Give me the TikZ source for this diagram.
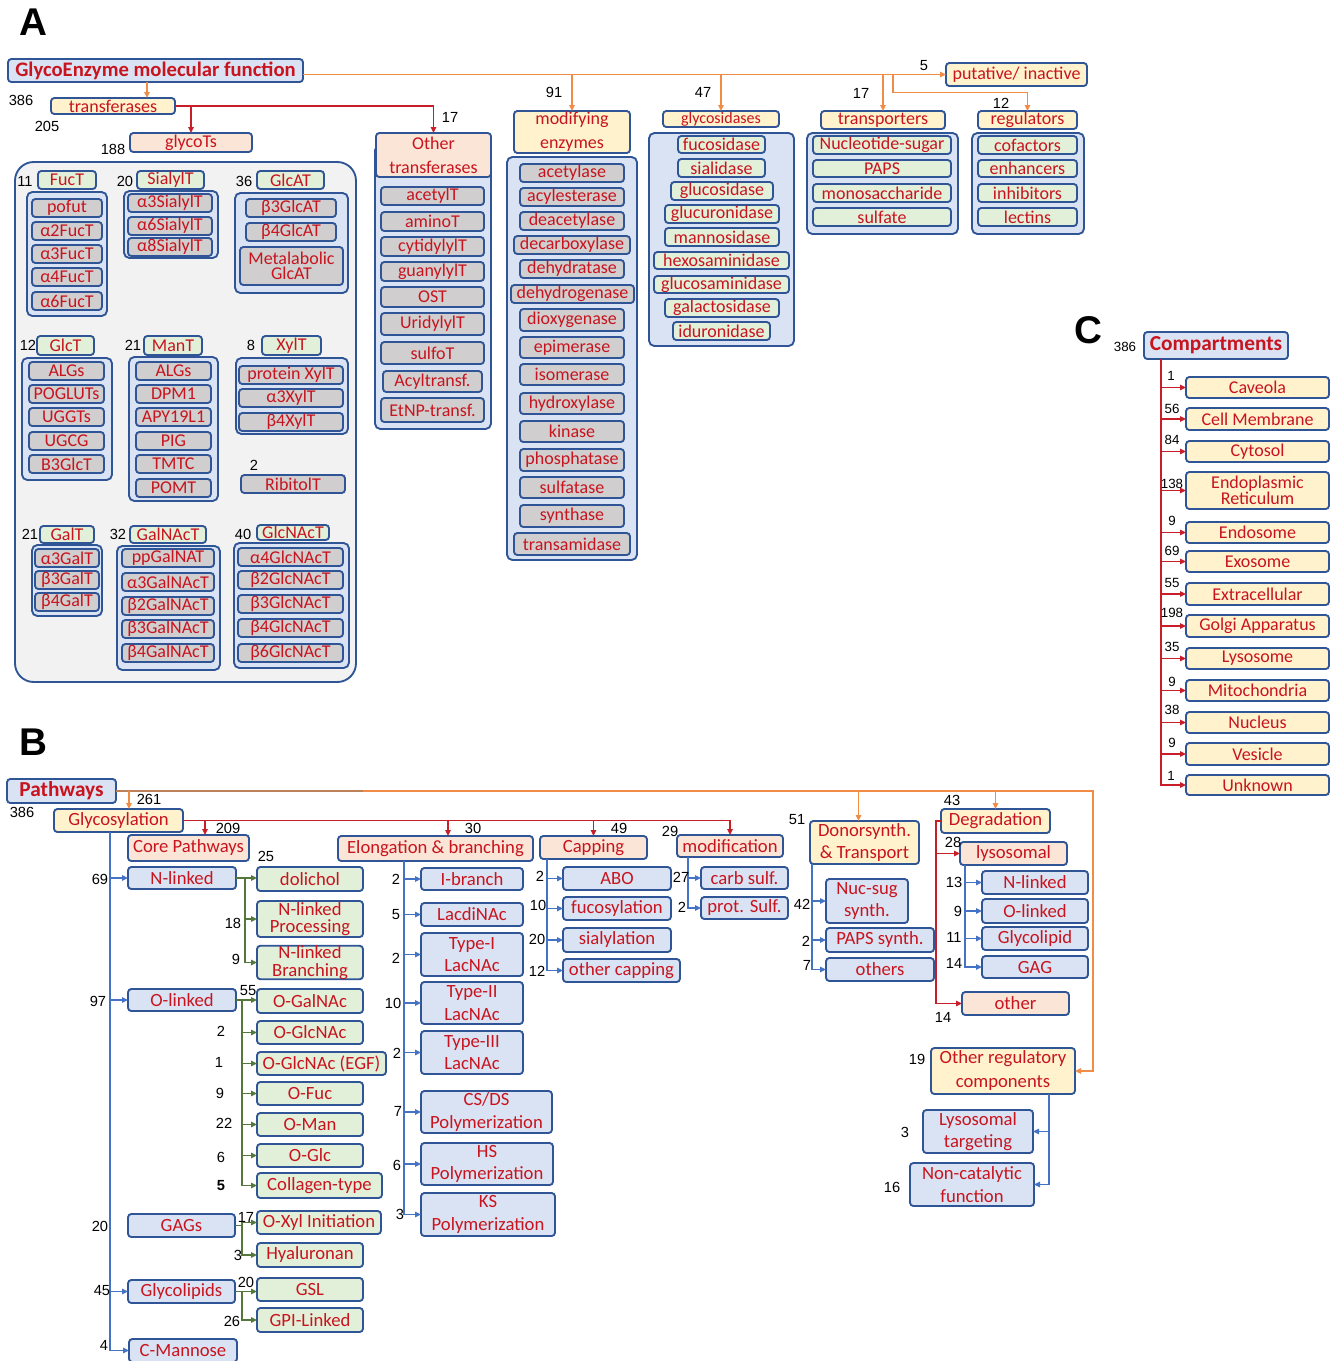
\documentclass[tikz,border=0pt]{standalone}
\usepackage{fontspec}
\setmainfont{Carlito}
\newfontfamily\arialf{Liberation Sans}
\usetikzlibrary{arrows.meta,calc}
\definecolor{bcol}{RGB}{47,85,151}
\definecolor{tred}{RGB}{200,20,30}
\definecolor{fblue}{RGB}{218,227,243}
\definecolor{fyel}{RGB}{255,242,204}
\definecolor{fpch}{RGB}{251,229,214}
\definecolor{fgrn}{RGB}{226,240,217}
\definecolor{fgry}{RGB}{208,206,206}
\definecolor{fpan}{RGB}{242,242,242}
\definecolor{ocol}{RGB}{240,140,70}
\definecolor{rcol}{RGB}{200,30,40}
\definecolor{blcol}{RGB}{68,114,196}
\definecolor{gcol}{RGB}{84,120,60}
\definecolor{brcol}{RGB}{190,130,90}
\newcommand\fz[2]{\fontsize{#1}{#2}\selectfont}
\newcommand\bx[7]{\node[#2,minimum width={((#5)-(#3))*0.75pt},minimum height={((#6)-(#4))*0.75pt}] (#1) at ({((#3)+(#5))/2},{((#4)+(#6))/2}) {#7};}
\newcommand\itm[6]{\bx{#2}{#1}{#3}{(#5)-9}{#4}{(#5)+9}{#6}}
\newcounter{nn}
\newcommand\nm[4][]{\stepcounter{nn}\node[num,#1] (num\thenn) at (#2,#3) {#4};}
\tikzset{
 gb/.style={draw=bcol,line width=1.4pt,rounded corners=2.5pt,text=tred,font=\fz{13.5}{14},align=center,inner sep=0pt,outer sep=0pt},
 blu/.style={gb,fill=fblue}, yel/.style={gb,fill=fyel}, pch/.style={gb,fill=fpch},
 grn/.style={gb,fill=fgrn}, gry/.style={gb,fill=fgry},
 fb/.style={font=\fz{14}{14}},
 cont/.style={draw=bcol,line width=1.4pt,rounded corners=4pt,fill=fblue,inner sep=0pt,outer sep=0pt},
 panel/.style={draw=bcol,line width=1.4pt,rounded corners=14pt,fill=fpan,inner sep=0pt},
 num/.style={font=\arialf\fz{11}{11},text=black,inner sep=0pt},
 cn/.style={font=\arialf\fz{10}{10}},
 lab/.style={font=\arialf\bfseries\fz{29}{29},inner sep=0pt},
 atip/.style={-{Triangle[length=4.5pt,width=4pt]}},
 oarr/.style={draw=ocol,line width=1.1pt,atip},
 rarr/.style={draw=rcol,line width=1.1pt,atip},
 barr/.style={draw=blcol,line width=1.1pt,atip},
 garr/.style={draw=gcol,line width=1.1pt,atip},
 bline/.style={draw=blcol,line width=1.1pt},
 gline/.style={draw=gcol,line width=1.1pt},
 rline/.style={draw=rcol,line width=1.1pt},
 brline/.style={draw=brcol,line width=1.3pt},
}
\begin{document}
\begin{tikzpicture}[x=0.75pt,y=-0.75pt]
\fill[white] (0,0) rectangle (1335,1361);
\useasboundingbox (0,0) rectangle (1335,1361);
% ---------------- Panel labels
\node[lab] (labA) at (33,22) {A};
\node[lab] (labB) at (33,742) {B};
\node[lab] (labC) at (1088,330) {C};
% ================= PANEL A
\bx{ge}{blu,font=\bfseries\fz{15.5}{16}}{8}{59}{303}{82}{GlycoEnzyme molecular function}
\bx{put}{yel}{946}{63}{1087}{86}{putative/ inactive}
\bx{tr}{yel}{51}{98}{175}{114}{transferases}
\bx{gts}{pch}{130}{133}{252}{152}{glycoTs}
% other transferases
\bx{otc}{cont}{375}{145}{491}{429}{}
\bx{ot}{pch,font=\fz{13.5}{18}}{376}{133}{491}{177}{Other\\transferases}
\bx{ot1}{gry}{381}{187}{484}{205}{acetylT}
\bx{ot2}{gry}{381}{212}{484}{231}{aminoT}
\bx{ot3}{gry}{381}{237}{484}{256}{cytidylylT}
\bx{ot4}{gry}{381}{262}{484}{281}{guanylylT}
\bx{ot5}{gry}{381}{287}{484}{307}{OST}
\bx{ot6}{gry}{381}{313}{484}{335}{UridylylT}
\bx{ot7}{gry}{381}{342}{484}{364}{sulfoT}
\bx{ot8}{gry}{383}{371}{482}{392}{Acyltransf.}
\bx{ot9}{gry}{381}{398}{484}{422}{EtNP-transf.}
% modifying enzymes
\bx{mec}{cont}{507}{157}{637}{560}{}
\bx{me}{yel,font=\fz{13.5}{18}}{514}{111}{630}{153}{modifying\\enzymes}
\bx{me1}{gry}{520}{164}{624}{182}{acetylase}
\bx{me2}{gry}{520}{188}{624}{206}{acylesterase}
\bx{me3}{gry}{520}{212}{624}{230}{deacetylase}
\bx{me4}{gry}{514}{236}{630}{254}{decarboxylase}
\bx{me5}{gry}{520}{260}{624}{278}{dehydratase}
\bx{me6}{gry}{511}{285}{634}{303}{dehydrogenase}
\bx{me7}{gry}{520}{309}{624}{331}{dioxygenase}
\bx{me8}{gry}{520}{337}{624}{358}{epimerase}
\bx{me9}{gry}{520}{364}{624}{385}{isomerase}
\bx{me10}{gry}{520}{393}{624}{414}{hydroxylase}
\bx{me11}{gry}{520}{421}{624}{442}{kinase}
\bx{me12}{gry}{520}{449}{624}{471}{phosphatase}
\bx{me13}{gry}{520}{477}{624}{498}{sulfatase}
\bx{me14}{gry}{520}{505}{624}{527}{synthase}
\bx{me15}{gry}{514}{533}{630}{555}{transamidase}
% glycosidases
\bx{gdc}{cont}{649}{133}{794}{346}{}
\bx{gd}{yel,font=\fz{12}{12}}{663}{111}{779}{127}{glycosidases}
\bx{gd1}{grn}{678}{136}{765}{153}{fucosidase}
\bx{gd2}{grn}{678}{159}{765}{177}{sialidase}
\bx{gd3}{grn}{671}{182}{773}{200}{glucosidase}
\bx{gd4}{grn}{665}{205}{779}{223}{glucuronidase}
\bx{gd5}{grn}{665}{228}{779}{246}{mannosidase}
\bx{gd6}{grn}{654}{252}{789}{269}{hexosaminidase}
\bx{gd7}{grn}{654}{276}{789}{293}{glucosaminidase}
\bx{gd8}{grn}{665}{299}{779}{317}{galactosidase}
\bx{gd9}{grn}{673}{322}{770}{340}{iduronidase}
% transporters
\bx{tpc}{cont}{807}{133}{958}{234}{}
\bx{tp}{yel}{821}{111}{945}{129}{transporters}
\bx{tp1}{grn}{813}{136}{951}{154}{Nucleotide-sugar}
\bx{tp2}{grn}{813}{160}{951}{177}{PAPS}
\bx{tp3}{grn}{813}{184}{951}{202}{monosaccharide}
\bx{tp4}{grn}{813}{208}{951}{226}{sulfate}
% regulators
\bx{rgc}{cont}{972}{133}{1084}{234}{}
\bx{rg}{yel}{978}{111}{1077}{129}{regulators}
\bx{rg1}{grn}{978}{136}{1077}{154}{cofactors}
\bx{rg2}{grn}{978}{160}{1077}{177}{enhancers}
\bx{rg3}{grn}{978}{184}{1077}{202}{inhibitors}
\bx{rg4}{grn}{978}{208}{1077}{226}{lectins}
% glycoTs panel
\bx{gpan}{panel}{15}{162}{356}{682}{}
\bx{fucc}{cont}{27}{192}{107}{316}{}
\bx{fuct}{grn}{38}{171}{96}{189}{FucT}
\itm{gry}{fu1}{32}{102}{208}{pofut}
\itm{gry}{fu2}{32}{102}{231}{α2FucT}
\itm{gry}{fu3}{32}{102}{254}{α3FucT}
\itm{gry}{fu4}{32}{102}{277}{α4FucT}
\itm{gry}{fu5}{32}{102}{301}{α6FucT}
\bx{sialc}{cont}{124}{191}{218}{258}{}
\bx{sialt}{grn}{137}{171}{204}{189}{SialylT}
\itm{gry}{si1}{128}{212}{203}{α3SialylT}
\itm{gry}{si2}{128}{212}{226}{α6SialylT}
\itm{gry}{si3}{128}{212}{247}{α8SialylT}
\bx{glcac}{cont}{235}{193}{348}{293}{}
\bx{glcat}{grn}{257}{171}{324}{189}{GlcAT}
\itm{gry}{ga1}{246}{336}{208}{β3GlcAT}
\itm{gry}{ga2}{246}{336}{232}{β4GlcAT}
\bx{ga3}{gry,font=\fz{13.5}{11.5}}{240}{247}{343}{285}{Metalabolic\\GlcAT}
\bx{glctc}{cont}{22}{358}{112}{480}{}
\bx{glct}{grn}{37}{336}{94}{355}{GlcT}
\itm{gry}{gl1}{29}{104}{371}{ALGs}
\itm{gry}{gl2}{29}{104}{394}{POGLUTs}
\itm{gry}{gl3}{29}{104}{417}{UGGTs}
\itm{gry}{gl4}{29}{104}{441}{UGCG}
\itm{gry}{gl5}{29}{104}{464}{B3GlcT}
\bx{mantc}{cont}{129}{357}{218}{501}{}
\bx{mant}{grn}{144}{336}{202}{355}{ManT}
\itm{gry}{ma1}{136}{211}{371}{ALGs}
\itm{gry}{ma2}{136}{211}{394}{DPM1}
\itm{gry}{ma3}{136}{211}{417}{APY19L1}
\itm{gry}{ma4}{136}{211}{441}{PIG}
\itm{gry}{ma5}{136}{211}{464}{TMTC}
\itm{gry}{ma6}{136}{211}{488}{POMT}
\bx{xyltc}{cont}{236}{358}{348}{434}{}
\bx{xylt}{grn}{262}{336}{321}{355}{XylT}
\itm{gry}{xy1}{239}{343}{375}{protein XylT}
\itm{gry}{xy2}{239}{343}{398}{α3XylT}
\itm{gry}{xy3}{239}{343}{422}{β4XylT}
\itm{gry}{rib}{241}{345}{484}{RibitolT}
\bx{galtc}{cont}{32}{545}{102}{616}{}
\bx{galt}{grn}{40}{526}{94}{543}{GalT}
\itm{gry}{gt1}{35}{99}{558}{α3GalT}
\itm{gry}{gt2}{35}{99}{580}{β3GalT}
\itm{gry}{gt3}{35}{99}{602}{β4GalT}
\bx{galnc}{cont}{117}{546}{220}{670}{}
\bx{galnact}{grn}{130}{526}{206}{543}{GalNAcT}
\itm{gry}{gn1}{122}{214}{558}{ppGalNAT}
\itm{gry}{gn2}{122}{214}{582}{α3GalNAcT}
\itm{gry}{gn3}{122}{214}{606}{β2GalNAcT}
\itm{gry}{gn4}{122}{214}{629}{β3GalNAcT}
\itm{gry}{gn5}{122}{214}{653}{β4GalNAcT}
\bx{glcnc}{cont}{234}{543}{349}{668}{}
\bx{glcnact}{grn}{257}{525}{329}{540}{GlcNAcT}
\itm{gry}{gc1}{238}{343}{557}{α4GlcNAcT}
\itm{gry}{gc2}{238}{343}{580}{β2GlcNAcT}
\itm{gry}{gc3}{238}{343}{604}{β3GlcNAcT}
\itm{gry}{gc4}{238}{343}{628}{β4GlcNAcT}
\itm{gry}{gc5}{238}{343}{653}{β6GlcNAcT}
% connectors A
\draw[oarr] (ge.east |- put.west) -- (put.west);
\coordinate (a1) at ($(ge.south)+(-8.5,0)$);
\draw[oarr] (a1) -- (a1 |- tr.north);
\draw[rarr] (tr.east) -| (ot.north);
\draw[rarr] (gts.north |- tr.east) -- (gts.north);
\draw[oarr] (me.north |- put.west) -- (me.north);
\draw[oarr] (gd.north |- put.west) -- (gd.north);
\draw[oarr] (tp.north |- put.west) -- (tp.north);
\coordinate (a2) at ($(tp.north |- put.west)+(10,0)$);
\draw[oarr] (a2) -- ++(0,18) -| (rg.north);
% numbers A
\nm{21}{100}{386} \nm{47}{126}{205} \nm{113}{149}{188} \nm{450}{117}{17}
\nm{554}{92}{91} \nm{703}{92}{47} \nm{861}{93}{17} \nm{1001}{103}{12} \nm{924}{66}{5}
\nm{25}{181}{11} \nm{125}{181}{20} \nm{244}{181}{36}
\nm{28}{345}{12} \nm{133}{345}{21} \nm{251}{345}{8} \nm{254}{465}{2}
\nm{30}{534}{21} \nm{118}{534}{32} \nm{243}{534}{40}
% ================= PANEL B
\bx{pw}{blu,font=\bfseries\fz{16}{16}}{7}{779}{116}{803}{Pathways}
\bx{glyc}{yel,fb}{54}{809}{183}{832}{Glycosylation}
\bx{core}{pch,fb}{128}{835}{249}{861}{Core Pathways}
\bx{nl}{blu,fb}{128}{867}{236}{889}{N-linked}
\bx{ol}{blu,fb}{128}{989}{236}{1011}{O-linked}
\bx{gags}{blu,fb}{128}{1214}{235}{1237}{GAGs}
\bx{glip}{blu,fb}{128}{1280}{235}{1303}{Glycolipids}
\bx{cman}{blu,fb}{129}{1339}{237}{1362}{C-Mannose}
\bx{dol}{grn,fb}{257}{867}{363}{891}{dolichol}
\bx{nlp}{grn,font=\fz{14}{12.5}}{257}{901}{363}{937}{N-linked\\Processing}
\bx{nlb}{grn,font=\fz{14}{13}}{257}{946}{363}{979}{N-linked\\Branching}
\bx{ogn}{grn,fb}{257}{989}{363}{1013}{O-GalNAc}
\bx{oglc}{grn,fb}{257}{1021}{363}{1044}{O-GlcNAc}
\bx{oegf}{grn,fb}{257}{1052}{386}{1075}{O-GlcNAc (EGF)}
\bx{ofuc}{grn,fb}{257}{1082}{363}{1105}{O-Fuc}
\bx{oman}{grn,fb}{257}{1113}{363}{1136}{O-Man}
\bx{oglu}{grn,fb}{257}{1144}{363}{1167}{O-Glc}
\bx{coll}{grn,fb}{257}{1173}{382}{1198}{Collagen-type}
\bx{oxyl}{grn,fb}{257}{1211}{381}{1234}{O-Xyl Initiation}
\bx{hya}{grn,fb}{257}{1243}{363}{1267}{Hyaluronan}
\bx{gsl}{grn,fb}{257}{1278}{363}{1301}{GSL}
\bx{gpi}{grn,fb}{257}{1308}{363}{1332}{GPI-Linked}
\bx{elong}{pch,fb}{338}{836}{533}{861}{Elongation \& branching}
\bx{ibr}{blu,fb}{421}{868}{523}{890}{I-branch}
\bx{ldn}{blu,fb}{421}{903}{523}{926}{LacdiNAc}
\bx{ty1}{blu,font=\fz{14}{17}}{421}{933}{523}{976}{Type-I\\LacNAc}
\bx{ty2}{blu,font=\fz{14}{17}}{421}{982}{523}{1024}{Type-II\\LacNAc}
\bx{ty3}{blu,font=\fz{14}{17}}{421}{1031}{523}{1074}{Type-III\\LacNAc}
\bx{csds}{blu,font=\fz{14}{17}}{421}{1091}{552}{1133}{CS/DS\\Polymerization}
\bx{hs}{blu,font=\fz{14}{17}}{421}{1143}{553}{1185}{HS\\Polymerization}
\bx{ks}{blu,font=\fz{14}{17}}{421}{1193}{555}{1236}{KS\\Polymerization}
\bx{capp}{pch,fb}{540}{836}{647}{859}{Capping}
\bx{abo}{blu,fb}{563}{867}{671}{890}{ABO}
\bx{fucos}{blu,fb}{563}{897}{671}{920}{fucosylation}
\bx{sial}{blu,fb}{563}{928}{671}{952}{sialylation}
\bx{ocap}{blu,fb}{563}{959}{680}{982}{other capping}
\bx{modif}{pch,fb}{677}{835}{783}{857}{modification}
\bx{csulf}{blu,fb}{701}{867}{788}{889}{carb sulf.}
\bx{psulf}{blu,fb}{701}{897}{788}{919}{prot. Sulf.}
\bx{donor}{yel,font=\fz{14}{17}}{810}{821}{919}{864}{Donorsynth.\\\& Transport}
\bx{nuc}{blu,font=\fz{14}{17}}{826}{879}{908}{923}{Nuc-sug\\synth.}
\bx{paps}{blu,fb}{826}{928}{934}{952}{PAPS synth.}
\bx{oths}{blu,fb}{826}{958}{934}{981}{others}
\bx{degr}{yel,fb}{941}{809}{1050}{833}{Degradation}
\bx{lyso}{pch,fb}{960}{842}{1067}{865}{lysosomal}
\bx{dnl}{blu,fb}{982}{871}{1088}{894}{N-linked}
\bx{dol2}{blu,fb}{982}{899}{1088}{923}{O-linked}
\bx{dgl}{blu,fb}{982}{927}{1088}{950}{Glycolipid}
\bx{dgag}{blu,fb}{982}{956}{1088}{978}{GAG}
\bx{doth}{pch,fb}{962}{992}{1069}{1015}{other}
\bx{oreg}{yel,font=\fz{14}{18}}{931}{1048}{1075}{1094}{Other regulatory\\components}
\bx{lyst}{blu,font=\fz{14}{17}}{923}{1110}{1033}{1153}{Lysosomal\\targeting}
\bx{noncat}{blu,font=\fz{14}{17}}{910}{1163}{1034}{1206}{Non-catalytic\\function}
% connectors B
\draw[brline] (pw.east) -- ++(247,0) coordinate (pm);
\coordinate (rc) at (1093,791);
\draw[oarr] (pm) -- (rc) |- (oreg.east);
\coordinate (g1) at ($(glyc.north)+(10.5,0)$);
\draw[oarr] (g1 |- pw.east) -- (g1);
\coordinate (d1) at ($(donor.north)+(-6,0)$);
\draw[oarr] (d1 |- rc) -- (d1);
\draw[oarr] (degr.north |- rc) -- (degr.north);
\draw[rarr] (glyc.east) -| (modif.north);
\coordinate (c1) at ($(core.north)+(16.5,0)$);
\draw[rarr] (c1 |- glyc.east) -- (c1);
\coordinate (e1) at ($(elong.north)+(12.5,0)$);
\draw[rarr] (e1 |- glyc.east) -- (e1);
\draw[rarr] (capp.north |- glyc.east) -- (capp.north);
% glycosylation vertical
\coordinate (gv) at ($(glyc.south)+(-8.5,0)$);
\draw[barr] (gv) |- (cman.west);
\draw[barr] (gv |- nl.west) -- (nl.west);
\draw[barr] (gv |- ol.west) -- (ol.west);
\draw[barr] (gv |- glip.west) -- (glip.west);
% N-linked
\coordinate (nv) at ($(nl.east)+(9,0)$);
\draw[garr] (nl.east) -- (nl.east -| dol.west);
\draw[garr] (nv) |- (nlb.west);
\draw[garr] (nv |- nlp.west) -- (nlp.west);
% O-linked
\coordinate (ov) at ($(ol.east)+(6,0)$);
\draw[garr] (ol.east) -- (ol.east -| ogn.west);
\draw[garr] (ov) |- (coll.west);
\foreach \t in {oglc,oegf,ofuc,oman,oglu}{\draw[garr] (ov |- \t.west) -- (\t.west);}
% GAGs
\coordinate (gav) at ($(gags.east)+(7,0)$);
\draw[gline] (gags.east) -- (gav);
\draw[garr] (gav) |- (oxyl.west);
\draw[garr] (gav) |- (hya.west);
% Glycolipids
\coordinate (glv) at ($(glip.east)+(7,0)$);
\draw[garr] (glip.east) -- (glip.east -| gsl.west);
\draw[garr] (glv) |- (gpi.west);
% Elongation
\coordinate (ev) at ($(elong.south)+(-31.5,0)$);
\draw[barr] (ev) |- (ks.west);
\foreach \t in {ibr,ldn,ty1,ty2,ty3,csds,hs}{\draw[barr] (ev |- \t.west) -- (\t.west);}
% Capping
\coordinate (cv) at ($(capp.south)+(-46.5,0)$);
\draw[barr] (cv) |- (ocap.west);
\foreach \t in {abo,fucos,sial}{\draw[barr] (cv |- \t.west) -- (\t.west);}
% modification
\coordinate (mv) at ($(modif.south)+(-42,0)$);
\draw[barr] (mv) |- (psulf.west);
\draw[barr] (mv |- csulf.west) -- (csulf.west);
% donor
\coordinate (dv) at ($(donor.south)+(-52.5,0)$);
\draw[barr] (dv) |- (oths.west);
\draw[barr] (dv |- nuc.west) -- (nuc.west);
\draw[barr] (dv |- paps.west) -- (paps.west);
% degradation
\coordinate (rv) at ($(degr.west)+(-5,0)$);
\draw[rarr] (degr.west) -- (rv) |- (doth.west);
\draw[rarr] (rv |- lyso.west) -- (lyso.west);
\coordinate (lv) at ($(lyso.south)+(-48.5,0)$);
\draw[barr] (lv) |- (dgag.west);
\foreach \t in {dnl,dol2,dgl}{\draw[barr] (lv |- \t.west) -- (\t.west);}
% other regulatory
\coordinate (ov2) at ($(oreg.south)+(46,0)$);
\draw[barr] (ov2) |- (noncat.east);
\draw[barr] (ov2 |- lyst.east) -- (lyst.east);
% numbers B
\nm{22}{812}{386} \nm{149}{799}{261} \nm{228}{828}{209} \nm{473}{828}{30}
\nm{619}{828}{49} \nm{670}{831}{29} \nm{266}{856}{25} \nm{100}{879}{69}
\nm{233}{923}{18} \nm{236}{959}{9} \nm{98}{1001}{97} \nm{248}{991}{55}
\nm{221}{1031}{2} \nm{219}{1062}{1} \nm{220}{1093}{9} \nm{224}{1123}{22}
\nm{221}{1157}{6} \nm[font=\arialf\bfseries\fz{11}{11}]{221}{1186}{5}
\nm{100}{1226}{20} \nm{246}{1217}{17} \nm{238}{1255}{3} \nm{102}{1291}{45}
\nm{246}{1282}{20} \nm{232}{1321}{26} \nm{104}{1345}{4}
\nm{396}{879}{2} \nm{396}{915}{5} \nm{396}{958}{2} \nm{393}{1003}{10}
\nm{397}{1053}{2} \nm{398}{1111}{7} \nm{397}{1165}{6} \nm{400}{1214}{3}
\nm{540}{876}{2} \nm{538}{905}{10} \nm{537}{939}{20} \nm{537}{971}{12}
\nm{681}{877}{27} \nm{682}{907}{2}
\nm{797}{820}{51} \nm{802}{904}{42} \nm{806}{941}{2} \nm{807}{965}{7}
\nm{952}{800}{43} \nm{953}{842}{28} \nm{954}{882}{13} \nm{958}{911}{9}
\nm{954}{937}{11} \nm{954}{963}{14} \nm{943}{1017}{14}
\nm{917}{1059}{19} \nm{905}{1132}{3} \nm{892}{1187}{16}
% ================= PANEL C
\bx{comp}{blu,font=\bfseries\fz{16}{16}}{1144}{332}{1288}{359}{Compartments}
\bx{cp1}{yel}{1186}{377}{1329}{398}{Caveola}
\bx{cp2}{yel}{1186}{408}{1329}{430}{Cell Membrane}
\bx{cp3}{yel}{1186}{441}{1329}{462}{Cytosol}
\bx{cp4}{yel,font=\fz{13.5}{12}}{1186}{472}{1329}{509}{Endoplasmic\\Reticulum}
\bx{cp5}{yel}{1186}{522}{1329}{543}{Endosome}
\bx{cp6}{yel}{1186}{551}{1329}{572}{Exosome}
\bx{cp7}{yel}{1186}{583}{1329}{605}{Extracellular}
\bx{cp8}{yel}{1186}{615}{1329}{637}{Golgi Apparatus}
\bx{cp9}{yel}{1186}{648}{1329}{669}{Lysosome}
\bx{cp10}{yel}{1186}{680}{1329}{701}{Mitochondria}
\bx{cp11}{yel}{1186}{712}{1329}{733}{Nucleus}
\bx{cp12}{yel}{1186}{743}{1329}{765}{Vesicle}
\bx{cp13}{yel}{1186}{775}{1329}{795}{Unknown}
\coordinate (cc) at ($(comp.south)+(-55,0)$);
\draw[rarr] (cc) |- (cp13.west);
\foreach \t in {cp1,cp2,cp3,cp4,cp5,cp6,cp7,cp8,cp9,cp10,cp11,cp12}{\draw[rarr] (cc |- \t.west) -- (\t.west);}
\nm[cn]{1125}{347}{386}
\nm[cn]{1171}{376}{1} \nm[cn]{1172}{409}{56} \nm[cn]{1172}{440}{84} \nm[cn]{1172}{484}{138}
\nm[cn]{1172}{521}{9} \nm[cn]{1172}{551}{69} \nm[cn]{1172}{583}{55} \nm[cn]{1172}{613}{198}
\nm[cn]{1172}{647}{35} \nm[cn]{1172}{682}{9} \nm[cn]{1172}{710}{38} \nm[cn]{1172}{743}{9}
\nm[cn]{1171}{776}{1}
\end{tikzpicture}
\end{document}
